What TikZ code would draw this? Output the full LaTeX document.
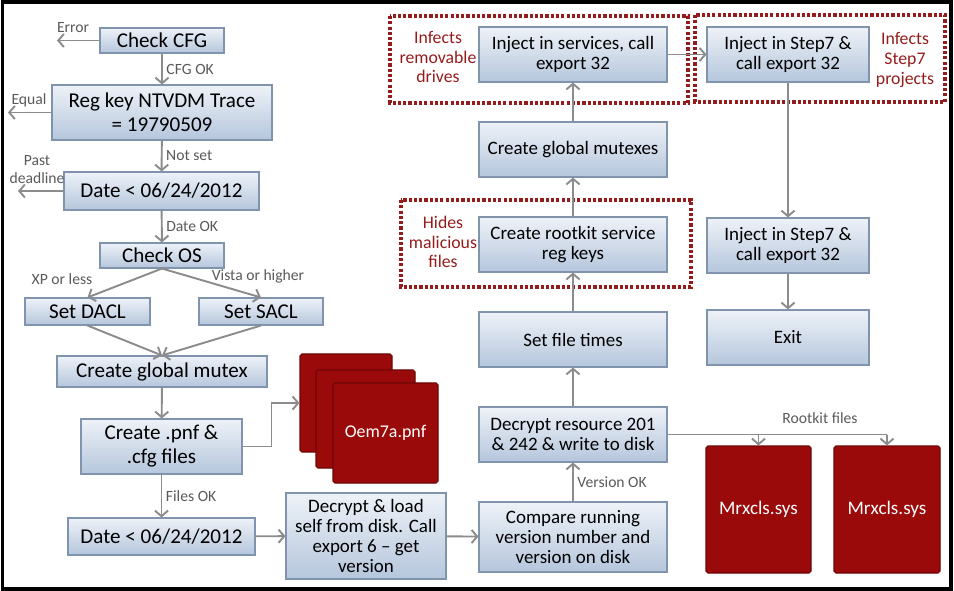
\documentclass[tikz,border=0pt]{standalone}
\usepackage{fontspec}
\setmainfont{Carlito}
\usepackage{tikz}
\usetikzlibrary{arrows.meta,shadows}
\definecolor{boxtop}{HTML}{EEF2F8}
\definecolor{boxbot}{HTML}{B5C6DC}
\definecolor{boxln}{HTML}{8094AE}
\definecolor{filered}{HTML}{9B0A0A}
\definecolor{fileln}{HTML}{6E0505}
\definecolor{zonered}{HTML}{941C1C}
\definecolor{wiregray}{HTML}{8C8C8C}
\definecolor{lblgray}{HTML}{5A5A5A}
\tikzset{
  sz/.style 2 args={minimum width=#1*0.02cm,minimum height=#2*0.02cm},
  box/.style={draw=boxln,line width=0.6pt,top color=boxtop,bottom color=boxbot,align=center,inner sep=1pt,
    drop shadow={opacity=0.2,shadow xshift=0.6pt,shadow yshift=-0.6pt}},
  big/.style={font=\fontsize{12}{13.6}\selectfont},
  small/.style={font=\fontsize{10.8}{11.4}\selectfont},
  file/.style={draw=fileln,line width=0.6pt,fill=filered,rounded corners=1pt,text=white,font=\fontsize{10.9}{12}\selectfont},
  arr/.style={draw=wiregray,line width=1.1pt,-{Straight Barb[length=3.2pt,width=7.5pt]}},
  wire/.style={draw=wiregray,line width=1.1pt},
  lbl/.style={text=lblgray,font=\fontsize{8.9}{10.2}\selectfont,inner sep=2pt,align=center},
  note/.style={text=zonered,align=center,font=\fontsize{10.1}{11.3}\selectfont},
  zone/.style={draw=zonered,line width=2pt,dash pattern=on 1.8pt off 1.2pt}
}
\begin{document}
\begin{tikzpicture}[x=0.02cm,y=-0.02cm]
\useasboundingbox (0,0) rectangle (954,591);
\draw[line width=0.08cm] (2.5,2.5) rectangle (950.5,588.5);

\node (cfg) at (162,40.5) [box,big,sz={124}{25}] {Check CFG};
\node (ntv) at (162,112.5) [box,big,sz={220}{55}] {Reg key NTVDM Trace\\= 19790509};
\node (date1) at (161.5,191) [box,big,sz={195}{38}] {Date < 06/24/2012};
\node (os) at (162,255.5) [box,big,sz={124}{25}] {Check OS};
\node (dacl) at (87.5,311.5) [box,big,sz={125}{27}] {Set DACL};
\node (sacl) at (261,311.5) [box,big,sz={124}{27}] {Set SACL};
\node (mtx) at (162,371.5) [box,big,sz={210}{31}] {Create global mutex};
\node (pnf) at (161.5,446.5) [box,big,sz={161}{55}] {Create .pnf \&\\.cfg files};
\node (date2) at (161.5,536.5) [box,big,sz={187}{37}] {Date < 06/24/2012};
\node (load) at (366,536) [box,small,sz={160}{86}] {Decrypt \& load\\self from disk. Call\\export 6 -- get\\version};
\node (cmp) at (573,537) [box,small,sz={188}{70}] {Compare running\\version number and\\version on disk};
\node (res) at (573,434.5) [box,small,sz={188}{55}] {Decrypt resource 201\\\& 242 \& write to disk};
\node (ftime) at (573,339.5) [box,small,sz={188}{55}] {Set file times};
\node (rkey) at (573,244.5) [box,small,sz={188}{55}] {Create rootkit service\\reg keys};
\node (gmtx) at (573,149.5) [box,small,sz={188}{55}] {Create global mutexes};
\node (svc) at (573,54.5) [box,small,sz={188}{55}] {Inject in services, call\\export 32};
\node (s7a) at (788,54.5) [box,small,sz={162}{55}] {Inject in Step7 \&\\call export 32};
\node (s7b) at (788,245.5) [box,small,sz={162}{55}] {Inject in Step7 \&\\call export 32};
\node (ext) at (788,337.5) [box,small,sz={162}{55}] {Exit};

\node (f1) at (346,403) [file,sz={92}{98}] {};
\node (f2) at (365.5,419) [file,sz={99}{98}] {};
\node (f3) at (385.5,433) [file,sz={105}{100},font=\fontsize{10.2}{11}\selectfont] {Oem7a.pnf};
\node (sys1) at (758.5,509.5) [file,sz={105}{127}] {Mrxcls.sys};
\node (sys2) at (887,509.5) [file,sz={106}{127}] {Mrxcls.sys};

\draw[zone] (390,16) rectangle (688,103);
\draw[zone] (401,200) rectangle (691,287);
\draw[zone] (695,15) rectangle (945,102);
\node (n1) at (438,57) [note] {Infects\\removable\\drives};
\node (n2) at (443,242) [note] {Hides\\malicious\\files};
\node (n3) at (905,60) [note] {Infects\\Step7\\projects};

\coordinate (err) at (57,40.5);
\coordinate (eq) at (8,112.5);
\coordinate (dl) at (18,191);
\draw[arr] (cfg) -- (err);
\node at (73,28) [lbl] {Error};
\draw[arr] (ntv) -- (eq);
\node at (29,100) [lbl] {Equal};
\draw[arr] (date1) -- (dl);
\node at (37,170) [lbl] {Past\\deadline};

\draw[arr] (cfg) -- node[lbl,right] {CFG OK} (ntv);
\draw[arr] (ntv) -- node[lbl,right] {Not set} (date1);
\draw[arr] (date1) -- node[lbl,right] {Date OK} (os);
\draw[arr] (os.south) -- (dacl.north);
\draw[arr] (os.south) -- (sacl.north);
\node at (62,279) [lbl] {XP or less};
\node at (258,276) [lbl] {Vista or higher};
\draw[arr] (dacl.south) -- (mtx.north);
\draw[arr] (sacl.south) -- (mtx.north);
\draw[arr] (mtx) -- (pnf);
\draw[arr] (pnf.east) -- ++(29,0) |- (f1.west);
\draw[arr] (pnf) -- node[lbl,right] {Files OK} (date2);
\draw[arr] (date2) -- (load);
\draw[arr] (load) -- (cmp);
\draw[arr] (cmp) -- node[lbl,right] {Version OK} (res);
\draw[arr] (res) -- (ftime);
\draw[arr] (ftime) -- (rkey);
\draw[arr] (rkey) -- (gmtx);
\draw[arr] (gmtx) -- (svc);
\draw[arr] (svc) -- (s7a);
\draw[arr] (s7a) -- (s7b);
\draw[arr] (s7b) -- (ext);

\draw[wire] (res.east) -- (sys2.north |- res.east);
\node at (820,418) [lbl] {Rootkit files};
\draw[arr] (sys1.north |- res.east) -- (sys1.north);
\draw[arr] (sys2.north |- res.east) -- (sys2.north);
\end{tikzpicture}
\end{document}
